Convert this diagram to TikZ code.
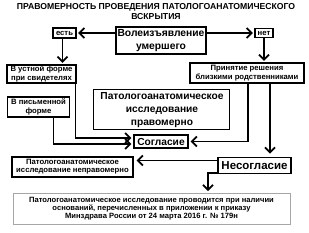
\documentclass[tikz,border=0pt]{standalone}
\usepackage{fontspec}
\setmainfont{Liberation Sans}
\usetikzlibrary{arrows.meta}
\tikzset{
  box/.style={draw, line width=1.2pt, inner sep=0pt, align=center, fill=white,
    font=\bfseries\fontsize{7.7}{8.3}\selectfont},
  bigbox/.style={box, line width=1.8pt, font=\bfseries\fontsize{10.3}{12.5}\selectfont},
  conn/.style={line width=1.8pt},
  arr/.style={conn, -{Straight Barb[length=5pt,width=10pt]}},
}
\begin{document}
\begin{tikzpicture}[x=1pt,y=-1pt]
\useasboundingbox (0,0) rectangle (309,233);
\node[font=\bfseries\fontsize{8.65}{10}\selectfont, align=center] (title) at (156,12)
  {ПРАВОМЕРНОСТЬ ПРОВЕДЕНИЯ ПАТОЛОГОАНАТОМИЧЕСКОГО\\ВСКРЫТИЯ};
\node[bigbox, minimum width=90pt, minimum height=27pt] (vol) at (161,40.5) {Волеизъявление\\умершего};
\node[box, minimum width=23pt, minimum height=10pt] (esti) at (64.5,33) {есть};
\node[box, minimum width=18pt, minimum height=9pt] (net) at (264,33) {нет};
\node[box, minimum width=69pt, minimum height=18pt] (ust) at (41.5,74) {В устной форме\\при свидетелях};
\node[box, minimum width=62pt, minimum height=20pt] (pis) at (38.5,107) {В письменной\\форме};
\node[box, minimum width=114pt, minimum height=20pt] (rod) at (247,73) {Принятие решения\\близкими родственниками};
\node[box, line width=1pt, minimum width=136pt, minimum height=40pt,
  font=\bfseries\fontsize{10.2}{13}\selectfont] (prav) at (162,110)
  {Патологоанатомическое\\исследование\\правомерно};
\node[box, minimum width=54pt, minimum height=13pt, font=\bfseries\fontsize{10.2}{12}\selectfont] (sogl) at (161,141.5) {Согласие};
\node[box, minimum width=121pt, minimum height=20pt] (nepr) at (72.5,167) {Патологоанатомическое\\исследование неправомерно};
\node[bigbox, minimum width=73pt, minimum height=16pt, font=\bfseries\fontsize{11.5}{13}\selectfont] (nes) at (254.5,165.5) {Несогласие};
\node[box, draw=gray!70, line width=0.8pt, minimum width=277pt, minimum height=31pt,
  font=\bfseries\fontsize{7.6}{7.8}\selectfont] (bot) at (151.5,208.5)
  {Патологоанатомическое исследование  проводится при наличии\\оснований, перечисленных в приложении к приказу\\Минздрава России от 24 марта 2016 г. № 179н};
% connectors
\draw[arr] (vol.west |- esti.east) -- ([xshift=1.5pt]esti.east);
\draw[arr] (vol.east |- net.west) -- ([xshift=-1.5pt]net.west);
\draw[arr] ([xshift=-2pt]esti.south) -- ([xshift=-2pt,yshift=1.5pt]esti.south |- ust.north);
\draw[arr] (net.south) -- ([yshift=1.5pt]net.south |- rod.north);
\draw[arr] ([xshift=-1pt]ust.south east) |- ([xshift=-2pt,yshift=3.5pt]sogl.west);
\draw[arr] ([xshift=15pt]pis.south) |- ([xshift=-2pt,yshift=-2.5pt]sogl.west);
\draw[arr] ([xshift=1pt]rod.south) |- ([xshift=2pt]sogl.east);
\draw[arr] ([xshift=23pt]rod.south) -- ([xshift=23pt,yshift=3pt]rod.south |- nes.north);
\draw[arr] ([yshift=-4pt]nes.north west) -- ([xshift=3pt,yshift=-4pt]nes.north west -| nepr.east);
\draw[arr] ([yshift=1pt]nes.south west) -| ([xshift=56.5pt,yshift=1.5pt]bot.north);
\end{tikzpicture}
\end{document}
